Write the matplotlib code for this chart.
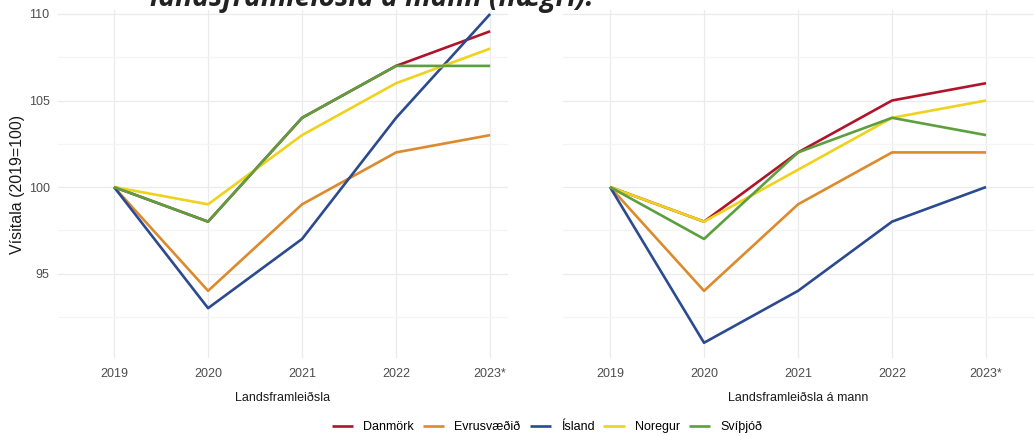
import matplotlib

matplotlib.use("Agg")
import matplotlib.pyplot as plt
from matplotlib.ticker import FixedLocator

W, H = 1034, 436

YEARS = ["2019", "2020", "2021", "2022", "2023*"]
COUNTRIES = ["Danmörk", "Evrusvæðið", "Ísland", "Noregur", "Svíþjóð"]
COLORS = ["#b0142a", "#dc8a2c", "#2b4a8f", "#efd21c", "#5c9f3e"]

# Landsframleiðsla (vinstri)
GDP_DANMORK = [100, 98, 104, 107, 109]
GDP_EVRUSVAEDID = [100, 94, 99, 102, 103]
GDP_ISLAND = [100, 93, 97, 104, 110]
GDP_NOREGUR = [100, 99, 103, 106, 108]
GDP_SVITHJOD = [100, 98, 104, 107, 107]

# Landsframleiðsla á mann (hægri)
PC_DANMORK = [100, 98, 102, 105, 106]
PC_EVRUSVAEDID = [100, 94, 99, 102, 102]
PC_ISLAND = [100, 91, 94, 98, 100]
PC_NOREGUR = [100, 98, 101, 104, 105]
PC_SVITHJOD = [100, 97, 102, 104, 103]

PANELS = [
    ("Landsframleiðsla",
     [GDP_DANMORK, GDP_EVRUSVAEDID, GDP_ISLAND, GDP_NOREGUR, GDP_SVITHJOD]),
    ("Landsframleiðsla á mann",
     [PC_DANMORK, PC_EVRUSVAEDID, PC_ISLAND, PC_NOREGUR, PC_SVITHJOD]),
]

TICK_INK = "#4d4d4d"
INK = "#1a1a1a"
GRID = "#ebebeb"

plt.rcParams["font.family"] = ["Liberation Sans", "DejaVu Sans"]

fig = plt.figure(figsize=(W / 100, H / 100), dpi=100)
fig.set_facecolor("white")


def px_axes(x0, x1, y0, y1):
    # pixel box (top-left origin) -> figure fraction
    return fig.add_axes([x0 / W, 1 - y1 / H, (x1 - x0) / W, (y1 - y0) / H])


boxes = [(58, 508, 10, 358), (563, 1034, 10, 358)]
xlims = [(-0.596, 4.19), (-0.5, 4.51)]

axes = []
for i, ((xlabel, series), box, xl) in enumerate(zip(PANELS, boxes, xlims)):
    ax = px_axes(*box)
    axes.append(ax)
    x = list(range(len(YEARS)))
    for vals, name, color in zip(series, COUNTRIES, COLORS):
        ax.plot(x, vals, color=color, linewidth=1.9, label=name,
                solid_capstyle="butt", zorder=3)
    ax.set_xlim(*xl)
    ax.set_ylim(90.12, 110.23)
    ax.set_xticks(x)
    ax.set_xticklabels(YEARS)
    ax.set_yticks([95, 100, 105, 110])
    ax.yaxis.set_minor_locator(FixedLocator([92.5, 97.5, 102.5, 107.5]))
    ax.grid(which="major", color=GRID, linewidth=0.9)
    ax.grid(which="minor", axis="y", color="#f4f4f4", linewidth=0.9)
    ax.set_axisbelow(True)
    for s in ax.spines.values():
        s.set_visible(False)
    ax.tick_params(which="both", length=0, colors=TICK_INK, labelsize=9)
    ax.tick_params(axis="x", pad=7)
    ax.tick_params(axis="y", pad=6)
    ax.set_xlabel(xlabel, fontsize=9, color=INK, labelpad=9)
    if i == 0:
        ax.set_ylabel("Vísitala (2019=100)", fontsize=11.5, color=INK)
        ax.yaxis.set_label_coords(-0.0733, 0.5)
    else:
        ax.tick_params(axis="y", labelleft=False)

# title clipped at the top edge of the image
fig.text(150 / W, 1 - 6 / H, "landsframleiðsla á mann (hægri).",
         fontsize=20.3, fontweight="bold", fontstyle="italic", color="#222222",
         family=["Open Sans", "DejaVu Sans"], va="baseline", ha="left")

handles, labels = axes[0].get_legend_handles_labels()
fig.legend(handles, labels, loc="center", ncol=5,
           bbox_to_anchor=(547 / W, 1 - 427 / H), frameon=False,
           fontsize=9, handlelength=1.7, columnspacing=0.72, handletextpad=0.8)

fig.savefig("out.png", dpi=100, facecolor="white")
